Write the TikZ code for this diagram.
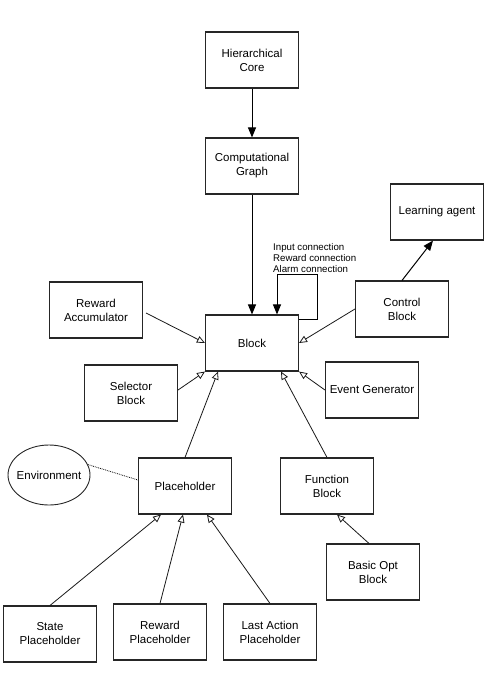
\documentclass[tikz,border=0pt]{standalone}
\usepackage{fontspec}
\setmainfont{Liberation Sans}
\usetikzlibrary{arrows.meta,shapes.geometric}

\tikzset{
	box/.style={draw=black!85, line width=1.1pt, minimum width=93pt, minimum height=56pt,
		align=center, inner sep=2pt, font=\fontsize{11.5}{14}\selectfont},
	blob/.style={ellipse, draw=black!85, line width=0.9pt, minimum width=82pt, minimum height=60pt,
		inner xsep=-8pt, inner ysep=1pt, font=\fontsize{11.5}{14}\selectfont},
	hollow/.style={draw=black!90, line width=0.8pt, -{Triangle[open, length=8pt, width=7pt]}},
	solid/.style={draw=black, line width=1pt, -{Triangle[length=10pt, width=8pt]}}
}

\begin{document}
\begin{tikzpicture}[x=1pt, y=-1pt]
			\useasboundingbox (0,0) rectangle (493,689);
			
			\node[box](core) at (252,60){Hierarchical\\Core};
			\node[box](graph) at (252,166){Computational\\Graph};
			\node[box](agent) at (437,212){Learning agent};
			
			\node[box](blk) at (252,343){Block};
			\node[box](racc) at (96,310){Reward\\Accumulator};
			\node[box](ctl) at (402,309){Control\\Block};
			\node[box](sel) at (131,393){Selector\\Block};
			\node[box](evt) at (372,390){Event Generator};
			
			\node[blob](env) at (49,475){Environment};
			\node[box](plh) at (185,486){Placeholder};
			\node[box](fun) at (327,486){Function\\Block};
			\node[box](bopt) at (373,572){Basic Opt\\Block};
			
			\node[box](sph) at (50,634){State\\Placeholder};
			\node[box](rph) at (160,632){Reward\\Placeholder};
			\node[box](lph) at (270,632){Last Action\\Placeholder};
			
			\node[anchor=south west, align=left, inner sep=0pt, font=\fontsize{9.7}{11}\selectfont]
				(conn) at (273,273){Input connection\\Reward connection\\Alarm connection};
			\coordinate (turn) at (317,274);
			
			\draw[solid] (core) -- (graph);
			\draw[solid] (graph) -- (blk);
			\draw[solid] ([yshift=-5pt]blk.north east) -| (turn) -| ([xshift=25pt]blk.north);
			\draw[solid] (ctl.north) -- ([xshift=-4pt]agent.south);
			
			\draw[hollow] ([xshift=3pt,yshift=-3pt]racc.east) -- (blk.west);
			\draw[hollow] (ctl.west) -- (blk.east);
			\draw[hollow] ([yshift=3pt]sel.east) -- (blk.south west);
			\draw[hollow] (evt.west) -- (blk.south east);
			\draw[hollow] (plh.north) -- ([xshift=-34pt]blk.south);
			\draw[hollow] (fun.north) -- ([xshift=29pt]blk.south);
			
			\draw[hollow] (sph.north) -- ([xshift=-24pt]plh.south);
			\draw[hollow] (rph.north) -- ([xshift=-2pt]plh.south);
			\draw[hollow] (lph.north) -- ([xshift=22pt]plh.south);
			\draw[hollow] ([xshift=-4pt]bopt.north) -- ([xshift=10pt]fun.south);
			
			\draw[densely dotted, line width=0.8pt] (env.15) -- ([yshift=6pt]plh.west);
		\end{tikzpicture}
\end{document}
